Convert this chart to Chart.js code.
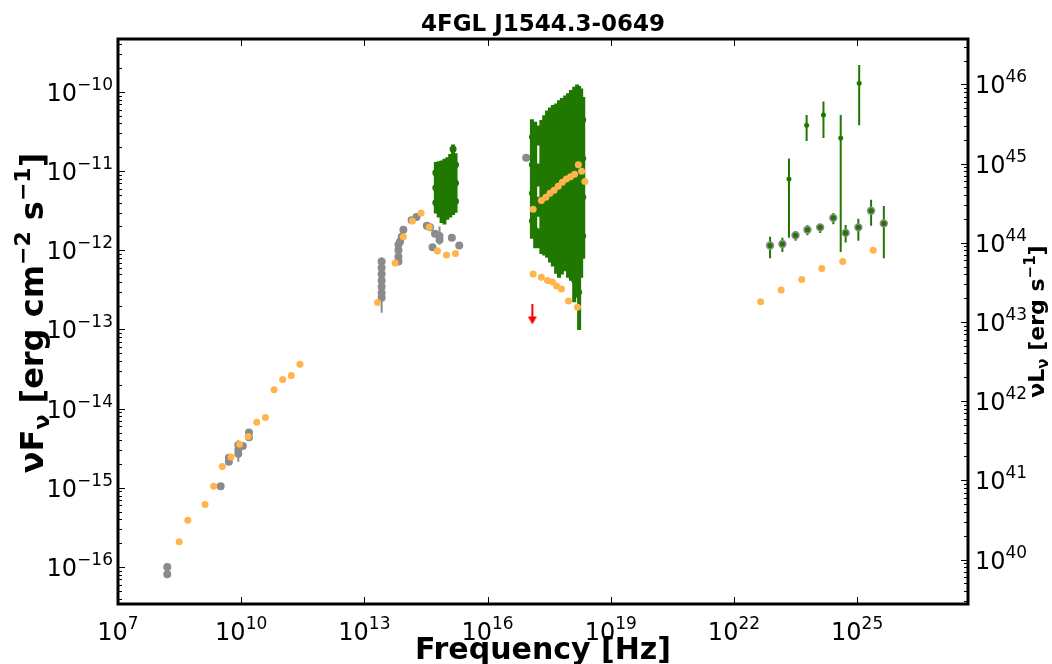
<!DOCTYPE html>
<html>
<head>
<meta charset="utf-8">
<script src="https://cdn.jsdelivr.net/npm/chart.js@4.4.1/dist/chart.umd.min.js"></script>
<style>
  html, body { margin: 0; padding: 0; background: #fff; }
  canvas { display: block; }
</style>
</head>
<body>
<canvas id="sed" width="1052" height="664"></canvas>
<script>
// values are log10(nu / Hz) and log10(nuFnu / erg cm^-2 s^-1)

// archival points (grey)
const greyNu = [8.20, 8.20, 9.50, 9.70, 9.70, 9.93, 9.93, 9.93, 10.04, 10.19, 10.19,
  13.42, 13.42, 13.42, 13.42, 13.42, 13.42, 13.42,
  13.95, 13.91, 13.87, 13.83, 13.83, 13.83, 13.83,
  14.15, 14.27, 14.52, 14.60, 14.72, 14.83, 14.83, 14.66, 15.13, 15.31,
  16.94];
const greyF = [-16.00, -16.09, -14.98, -14.67, -14.62, -14.57, -14.52, -14.46, -14.47, -14.36, -14.30,
  -12.14, -12.22, -12.30, -12.38, -12.46, -12.54, -12.60,
  -11.74, -11.83, -11.89, -11.93, -12.00, -12.08, -12.14,
  -11.62, -11.58, -11.69, -11.71, -11.79, -11.82, -11.87, -11.96, -11.84, -11.94,
  -10.83];
const greyLo = {5: -14.67, 17: -12.79, 31: -11.93};
const greyHi = {5: -14.40, 17: -12.09, 31: -11.70};

// template points (orange)
const orangeNu = [8.49, 8.70, 9.12, 9.33, 9.54, 9.75, 9.96, 10.17, 10.38, 10.59, 10.80, 11.01, 11.22, 11.43,
  13.32, 13.75, 13.95, 14.17, 14.38, 14.58, 14.78, 15.00, 15.22,
  17.11, 17.31, 17.42, 17.52, 17.62, 17.72, 17.82, 17.92, 18.02, 18.12, 18.21, 18.29, 18.37,
  17.11, 17.31, 17.46, 17.58, 17.68, 17.80, 17.97, 18.19,
  22.65, 23.15, 23.65, 24.14, 24.65, 25.39];
const orangeF = [-15.68, -15.41, -15.21, -14.98, -14.73, -14.61, -14.45, -14.35, -14.17, -14.11, -13.76, -13.63, -13.58, -13.44,
  -12.66, -12.16, -11.83, -11.63, -11.53, -11.71, -12.01, -12.06, -12.04,
  -11.48, -11.37, -11.33, -11.28, -11.24, -11.19, -11.14, -11.10, -11.07, -11.04, -10.92, -11.00, -11.13,
  -12.30, -12.34, -12.38, -12.40, -12.45, -12.49, -12.64, -12.72,
  -12.65, -12.50, -12.37, -12.23, -12.14, -12.00];

// optical/UV light curve (green), one column per band
const optNu = [14.74, 14.81, 14.88, 14.95, 15.02, 15.09, 15.16, 15.22];
const optF = [[-11.02, -11.21, -11.40], [-11.02, -11.23, -11.44], [-11.02, -11.26, -11.50], [-11.01, -11.26, -11.51],
  [-10.98, -11.22, -11.46], [-10.94, -11.18, -11.43], [-10.72, -10.90, -11.15, -11.40], [-10.92, -11.15, -11.38]];
const optErr = [0.11, 0.12, 0.13, 0.14, 0.13, 0.13, [0.03, 0.13, 0.13, 0.13], 0.12];

// X-ray spectra (green)
const xrayNu = [17.08, 17.16, 17.23, 17.31, 17.38, 17.45, 17.52, 17.59, 17.67, 17.74,
  17.81, 17.89, 17.96, 18.03, 18.11, 18.18, 18.23, 18.28, 18.33];
const xrayF = [
  [-10.57, -10.92, -11.28, -11.63], [-10.61, -10.99, -11.37, -11.74], [-10.55, -11.05, -11.45, -11.85],
  [-10.60, -11.00, -11.40, -11.80], [-10.55, -10.97, -11.39, -11.81], [-10.50, -10.94, -11.39, -11.83],
  [-10.47, -10.94, -11.41, -11.88], [-10.45, -10.94, -11.43, -11.92], [-10.45, -10.96, -11.48, -11.99],
  [-10.42, -10.96, -11.50, -12.03], [-10.39, -10.92, -11.46, -11.99], [-10.36, -10.89, -11.42, -11.95],
  [-10.34, -10.90, -11.46, -12.02], [-10.31, -10.89, -11.47, -12.05], [-10.24, -10.78, -11.32, -11.86, -12.38],
  [-10.20, -10.74, -11.28, -11.82, -12.30], [-10.22, -10.76, -11.30, -11.84, -12.53],
  [-10.28, -10.86, -11.44, -12.02], [-10.35, -10.84, -11.33, -11.82]];
const xrayErr = [0.20, 0.21, [0.10, 0.12, 0.10, 0.10], 0.22, 0.23, 0.24, 0.25, 0.26, 0.28, 0.29,
  0.29, 0.29, 0.30, 0.31, [0.28, 0.28, 0.28, 0.28, 0.25], 0.27, [0.27, 0.27, 0.27, 0.27, 0.45], 0.30, 0.26];

// gamma-ray light-curve points (green)
const gamNu = [23.34, 23.77, 24.18, 24.60, 25.05];
const gamF = [-11.10, -10.42, -10.29, -10.58, -9.89];
const gamLo = [-11.84, -10.62, -10.58, -12.02, -10.42];
const gamHi = [-10.84, -10.29, -10.12, -10.29, -9.66];

// 4FGL spectrum
const fglNu = [22.88, 23.18, 23.50, 23.79, 24.10, 24.42, 24.72, 25.03, 25.34, 25.65];
const fglF = [-11.94, -11.92, -11.81, -11.74, -11.71, -11.59, -11.78, -11.71, -11.50, -11.66];
const fglLo = [-12.10, -12.02, -11.88, -11.81, -11.78, -11.67, -11.90, -11.88, -11.69, -12.10];
const fglHi = [-11.83, -11.84, -11.76, -11.68, -11.67, -11.53, -11.68, -11.60, -11.36, -11.44];

// upper limit
const ulNu = [17.09];
const ulF = [-12.81];

// axes
const xTicks = [7, 10, 13, 16, 19, 22, 25];
const yTicks = [-16, -15, -14, -13, -12, -11, -10];
const y2Ticks = [40, 41, 42, 43, 44, 45, 46];
const xRange = [7, 27.7];
const yRange = [-16.467, -9.331];
const lumOffset = 55.905;

const GREEN = '#217800';
const GREY = '#8b8b8b';
const ORANGE = '#ffb44c';
const FONT = '"DejaVu Sans"';
const LOG = v => Math.pow(10, v);

const toPts = (nu, f, lo, hi) => nu.map((n, i) => ({
  x: LOG(n), y: LOG(f[i]),
  lo: lo && lo[i] != null ? LOG(lo[i]) : null,
  hi: hi && hi[i] != null ? LOG(hi[i]) : null
}));
const columns = (nu, f, err) => nu.flatMap((n, c) => f[c].map((v, k) => {
  const e = Array.isArray(err[c]) ? err[c][k] : err[c];
  return { x: LOG(n), y: LOG(v), lo: LOG(v - e), hi: LOG(v + e) };
}));

const arrow = document.createElement('canvas');
arrow.width = 12; arrow.height = 20;
(() => {
  const c = arrow.getContext('2d');
  c.strokeStyle = c.fillStyle = '#ff0000';
  c.lineWidth = 2;
  c.beginPath(); c.moveTo(6, 0); c.lineTo(6, 13); c.stroke();
  c.beginPath(); c.moveTo(1.5, 12); c.lineTo(10.5, 12); c.lineTo(6, 20); c.closePath(); c.fill();
})();

function textRun(ctx, parts, x, y, align, weight) {
  let w = 0;
  parts.forEach(([t, size]) => { ctx.font = `${weight} ${size}px ${FONT}`; w += ctx.measureText(t).width; });
  let cx = align === 'center' ? x - w / 2 : align === 'right' ? x - w : x;
  ctx.textAlign = 'left';
  ctx.textBaseline = 'alphabetic';
  parts.forEach(([t, size, dy]) => {
    ctx.font = `${weight} ${size}px ${FONT}`;
    ctx.fillText(t, cx, y + dy);
    cx += ctx.measureText(t).width;
  });
}
const pow10 = e => [['10', 24, 0], [String(e).replace('-', '\u2212'), 17, -11]];

const errorBars = {
  id: 'errorBars',
  beforeDatasetDraw(chart, args) {
    const ds = chart.data.datasets[args.index];
    if (!ds.errWidth) return;
    const { ctx, chartArea: a, scales: { y } } = chart;
    ctx.save();
    ctx.beginPath(); ctx.rect(a.left, a.top, a.width, a.height); ctx.clip();
    ctx.strokeStyle = ds.errColor;
    ctx.lineWidth = ds.errWidth;
    ctx.lineCap = ds.errCap || 'butt';
    ctx.beginPath();
    args.meta.data.forEach((el, i) => {
      const d = ds.data[i];
      if (d.lo == null) return;
      ctx.moveTo(el.x, y.getPixelForValue(d.lo));
      ctx.lineTo(el.x, y.getPixelForValue(d.hi));
    });
    ctx.stroke();
    ctx.restore();
  }
};

const frame = {
  id: 'frame',
  afterDraw(chart) {
    const { ctx, chartArea: a, scales: { x, y, y2 } } = chart;
    ctx.save();
    ctx.strokeStyle = '#000';
    ctx.fillStyle = '#000';
    ctx.lineWidth = 1;
    ctx.beginPath();
    xTicks.forEach(e => {
      const px = Math.round(x.getPixelForValue(LOG(e))) + 0.5;
      ctx.moveTo(px, a.bottom); ctx.lineTo(px, a.bottom - 7);
      ctx.moveTo(px, a.top); ctx.lineTo(px, a.top + 7);
    });
    const side = (scale, x0, dir, lo, hi) => {
      for (let e = lo; e <= hi; e++) for (let m = 1; m < 10; m++) {
        const v = m * LOG(e);
        if (v < scale.min || v > scale.max) continue;
        const py = Math.round(scale.getPixelForValue(v)) + 0.5;
        ctx.moveTo(x0, py); ctx.lineTo(x0 + dir * (m === 1 ? 7 : 4), py);
      }
    };
    side(y, a.left, 1, yTicks[0] - 1, yTicks[yTicks.length - 1]);
    side(y2, a.right, -1, y2Ticks[0] - 1, y2Ticks[y2Ticks.length - 1]);
    ctx.stroke();

    ctx.lineWidth = 3;
    ctx.strokeRect(a.left, a.top, a.right - a.left, a.bottom - a.top);

    xTicks.forEach(e => textRun(ctx, pow10(e), x.getPixelForValue(LOG(e)), 640, 'center', 'normal'));
    yTicks.forEach(e => textRun(ctx, pow10(e), a.left - 5, y.getPixelForValue(LOG(e)) + 9, 'right', 'normal'));
    y2Ticks.forEach(e => textRun(ctx, pow10(e), a.right + 7, y2.getPixelForValue(LOG(e)) + 9, 'left', 'normal'));

    const cx = (a.left + a.right) / 2;
    textRun(ctx, [['4FGL J1544.3-0649', 23, 0]], cx, 31, 'center', 'bold');
    textRun(ctx, [['Frequency [Hz]', 30, 0]], cx, 659, 'center', 'bold');

    ctx.save();
    ctx.translate(43, 313);
    ctx.rotate(-Math.PI / 2);
    textRun(ctx, [['\u03bdF', 32, 0], ['\u03bd', 22, 6], [' [erg cm', 32, 0], ['\u22122', 22, -13],
      [' s', 32, 0], ['\u22121', 22, -13], [']', 32, 0]], 0, 0, 'center', 'bold');
    ctx.restore();

    ctx.save();
    ctx.translate(1044, (a.top + a.bottom) / 2);
    ctx.rotate(-Math.PI / 2);
    textRun(ctx, [['\u03bdL', 22, 0], ['\u03bd', 15, 4], [' [erg s', 22, 0], ['\u22121', 15, -9],
      [']', 22, 0]], 0, 0, 'center', 'bold');
    ctx.restore();
    ctx.restore();
  }
};

const logAxis = (pos, range, fit) => ({
  type: 'logarithmic', position: pos, min: LOG(range[0]), max: LOG(range[1]),
  ticks: { display: false }, grid: { display: false }, border: { display: false },
  afterFit: fit
});

new Chart(document.getElementById('sed'), {
  type: 'scatter',
  data: {
    datasets: [
      { data: toPts(ulNu, ulF), pointStyle: arrow, pointRadius: 10, order: 0 },
      { data: toPts(orangeNu, orangeF), pointRadius: 3.5, pointBackgroundColor: ORANGE, pointBorderWidth: 0, order: 1 },
      { data: toPts(fglNu, fglF, fglLo, fglHi), pointRadius: 3.4, pointBackgroundColor: GREEN, pointBorderColor: GREY,
        pointBorderWidth: 1.6, errColor: GREEN, errWidth: 2, order: 2 },
      { data: toPts(gamNu, gamF, gamLo, gamHi), pointRadius: 2.5, pointBackgroundColor: GREEN, pointBorderWidth: 0,
        errColor: GREEN, errWidth: 2, order: 3 },
      { data: columns(xrayNu, xrayF, xrayErr), pointRadius: 3, pointBackgroundColor: GREEN, pointBorderWidth: 0,
        errColor: GREEN, errWidth: 4, errCap: 'square', order: 4 },
      { data: columns(optNu, optF, optErr), pointRadius: 3.5, pointBackgroundColor: GREEN, pointBorderWidth: 0,
        errColor: GREEN, errWidth: 4, errCap: 'square', order: 5 },
      { data: toPts(greyNu, greyF, greyNu.map((_, i) => greyLo[i]), greyNu.map((_, i) => greyHi[i])),
        pointRadius: 4, pointBackgroundColor: GREY, pointBorderWidth: 0, errColor: GREY, errWidth: 2, order: 6 }
    ]
  },
  options: {
    responsive: false,
    animation: false,
    devicePixelRatio: 1,
    layout: { padding: { top: 39 } },
    plugins: { legend: { display: false }, tooltip: { enabled: false } },
    scales: {
      x: logAxis('bottom', xRange, s => { s.height = 60; }),
      y: logAxis('left', yRange, s => { s.width = 118; }),
      y2: logAxis('right', yRange.map(v => v + lumOffset), s => { s.width = 84; })
    }
  },
  plugins: [errorBars, frame]
});
</script>
</body>
</html>
